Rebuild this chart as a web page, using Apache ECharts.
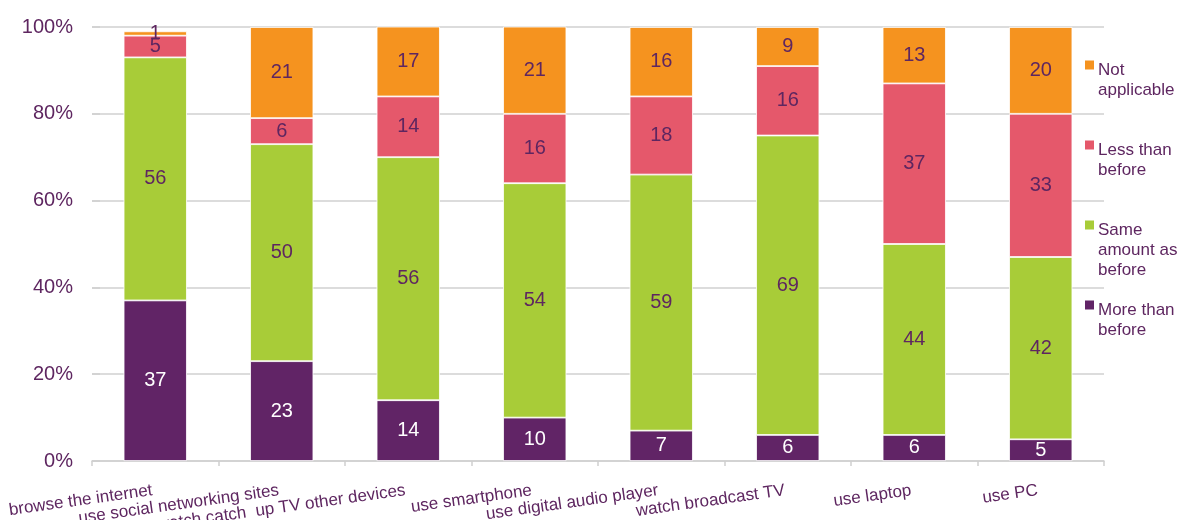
<!DOCTYPE html>
<html>
<head>
<meta charset="utf-8">
<script src="https://cdn.jsdelivr.net/npm/echarts@6/dist/echarts.min.js"></script>
<style>html,body{margin:0;padding:0;background:#fff;overflow:hidden}#c{width:1179px;height:520px}</style>
</head>
<body>
<div id="c"></div>
<script>
const categories = ['browse the internet','use social networking sites','watch catch  up TV other devices','use smartphone','use digital audio player','watch broadcast TV','use laptop','use PC'];
const moreThanBefore = [37,23,14,10,7,6,6,5];
const sameAsBefore = [56,50,56,54,59,69,44,42];
const lessThanBefore = [5,6,14,16,18,16,37,33];
const notApplicable = [1,21,17,21,16,9,13,20];
const yTicks = [0,20,40,60,80,100];

const TXT = '#5e2660';
const FONT = 'Liberation Sans, Arial, sans-serif';
const colors = {more:'#612466', same:'#a8cc38', less:'#e5586b', na:'#f5931f'};

function mk(name, data, color, labelColor){
  return {
    name, type:'bar', stack:'s', data, barWidth:'50%',
    itemStyle:{color, borderColor:'#ffffff', borderWidth:0.8},
    label:{show:true, position:'inside', color:labelColor, fontSize:20, fontFamily:FONT},
  };
}

function lg(name, top, lines){
  const h = lines*20;
  return {
    data:[name], orient:'vertical', left:1085, top, padding:0,
    itemWidth:9, itemHeight:h, itemGap:0,
    icon:'path://M0,1H9V10H0Z M0,' + h + 'L9,' + h,
    itemStyle:{borderWidth:0},
    textStyle:{color:TXT, fontSize:17, fontFamily:FONT, lineHeight:20, padding:[0,0,0,-1]},
    selectedMode:false
  };
}

const chart = echarts.init(document.getElementById('c'), null, {renderer:'canvas'});
chart.setOption({
  animation:false,
  grid:{left:92, right:75, top:27, bottom:59, containLabel:false, outerBoundsMode:'none'},
  legend:[
    lg('Not\napplicable', 60, 2),
    lg('Less than\nbefore', 140, 2),
    lg('Same\namount as\nbefore', 220, 3),
    lg('More than\nbefore', 300, 2)
  ],
  xAxis:{
    type:'category', data:categories,
    axisLine:{lineStyle:{color:'#d0d0d0', width:1.5}},
    axisTick:{show:true, length:5, interval:0, lineStyle:{color:'#d0d0d0', width:1.5}},
    axisLabel:{interval:0, rotate:8, margin:29, color:TXT, fontSize:17, fontFamily:FONT, padding:[0,3,0,0]}
  },
  yAxis:{
    type:'value', min:yTicks[0], max:yTicks[yTicks.length-1], interval:20,
    axisLine:{show:false},
    axisTick:{show:true, inside:true, length:8, lineStyle:{color:'#d0d0d0', width:1.5}},
    splitLine:{show:true, lineStyle:{color:'#d0d0d0', width:1.5}},
    axisLabel:{formatter:'{value}%', color:TXT, fontSize:20, fontFamily:FONT, margin:19}
  },
  series:[
    mk('More than\nbefore', moreThanBefore, colors.more, '#ffffff'),
    mk('Same\namount as\nbefore', sameAsBefore, colors.same, TXT),
    mk('Less than\nbefore', lessThanBefore, colors.less, TXT),
    mk('Not\napplicable', notApplicable, colors.na, TXT)
  ]
});
</script>
</body>
</html>
